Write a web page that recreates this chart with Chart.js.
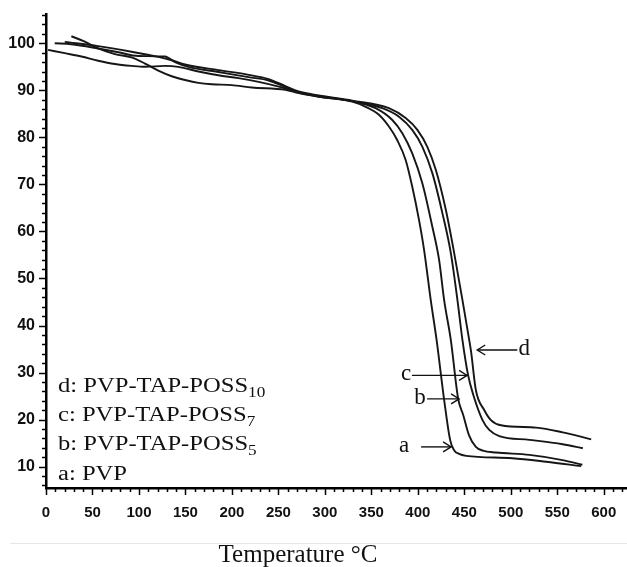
<!DOCTYPE html>
<html>
<head>
<meta charset="utf-8">
<script src="https://cdn.jsdelivr.net/npm/chart.js@4/dist/chart.umd.min.js"></script>
<style>
  html, body { margin: 0; padding: 0; background: #ffffff; }
  canvas { display: block; }
</style>
</head>
<body>
<canvas id="c" width="627" height="567"></canvas>
<script>
// ---------- data ----------
const xTickValues = [0, 50, 100, 150, 200, 250, 300, 350, 400, 450, 500, 550, 600];
const yTickValues = [10, 20, 30, 40, 50, 60, 70, 80, 90, 100];

// a: PVP
const tempA   = [27.3, 41.7, 56.1, 74.1, 92, 106.5, 120.8, 135.2, 149.6, 164, 178.3, 199.9, 221.5, 257.5, 271.8, 293.4,
                 329.4, 343.8, 358.1, 368.9, 377.9, 386.9, 394, 401.3, 406.7, 413.9, 420.2, 428.3, 434.7, 439, 444.4, 452, 501.6, 538, 575.7];
const weightA = [101.5, 100.35, 98.9, 97.7, 97.0, 95.7, 94.2, 93.0, 92.2, 91.6, 91.3, 91.1, 90.6, 90.1, 89.4, 88.65,
                 87.6, 86.5, 84.8, 82.3, 79.4, 75.2, 69.5, 62.4, 56.1, 45.4, 36.9, 24.2, 15.7, 13.5, 12.7, 12.3, 11.8, 11.05, 10.1];
// b: PVP-TAP-POSS5
const tempB   = [2.2, 20.2, 38.1, 56.1, 74.1, 92, 106.5, 128, 142.4, 164, 185.5, 207, 228.7, 250.3, 271.8, 293.4,
                 329.4, 354.5, 372.5, 383.3, 394, 404.9, 415.6, 422.9, 428.3, 435.5, 443.4, 448.8, 455, 462.4, 470, 484, 520, 555.6, 577];
const weightB = [98.6, 97.9, 97.2, 96.3, 95.6, 95.2, 95.0, 95.2, 95.0, 94.0, 93.2, 92.6, 91.8, 90.8, 89.6, 88.7,
                 87.7, 86.2, 83.7, 80.9, 76.6, 70.2, 61.0, 53.9, 45.4, 36.9, 24.4, 21.0, 16.7, 14.2, 13.4, 13.0, 12.5, 11.4, 10.4];
// c: PVP-TAP-POSS7
const tempC   = [9.4, 27.3, 56, 77.7, 99.2, 128, 138.8, 153.2, 185.5, 217.9, 239.5, 257.5, 271.8, 293.4,
                 329.4, 361.7, 379.7, 394, 404.9, 415.6, 426.4, 435.5, 442.6, 448, 454, 459.6, 469.6, 476.8, 487.6, 520, 555.9, 577.5];
const weightC = [100.0, 99.8, 98.9, 98.1, 97.3, 97.2, 96.0, 95.0, 93.9, 92.8, 92.1, 90.7, 89.6, 88.8,
                 87.7, 86.2, 84.4, 81.6, 78.0, 72.4, 63.9, 55.4, 45.4, 36.9, 29.5, 25.3, 19.9, 17.8, 16.5, 15.7, 14.75, 13.9];
// d: PVP-TAP-POSS10
const tempD   = [20.2, 56.1, 92, 120.8, 135.2, 149.6, 185.5, 217.9, 239.5, 257.5, 271.8, 293.4,
                 329.4, 368.9, 386.9, 399.5, 410.2, 419.3, 430.1, 439.1, 448, 455.3, 457.3, 462.4, 471.4, 478.6, 489.4, 527.2, 555.9, 586.5];
const weightD = [100.3, 99.4, 98.2, 97.1, 96.4, 95.5, 94.3, 93.3, 92.4, 90.9, 89.75, 88.9,
                 87.8, 86.2, 84.1, 81.6, 78.0, 73.1, 64.6, 55.4, 45.4, 36.9, 34.4, 26.3, 22.05, 19.9, 18.8, 18.3, 17.3, 15.8];

// legend lines and curve markers (text)
const legendMain = ['d: PVP-TAP-POSS', 'c: PVP-TAP-POSS', 'b: PVP-TAP-POSS', 'a: PVP'];
const legendSub  = ['10', '7', '5', ''];
const markerLetters = ['d', 'c', 'b', 'a'];
// arrow tip / tail (temperature) and level (weight %) for each letter
const markerTipT  = [463.9, 453.0, 444.4, 435.8];
const markerTailT = [507.0, 393.7, 410.0, 403.5];
const markerLabelT = [514.6, 387.3, 402.4, 385.1];
const markerW     = [34.8, 29.4, 24.4, 14.2];
const xTitle = 'Temperature °C';

function pts(t, w) { return t.map((v, i) => ({ x: v, y: w[i] })); }

const serif = '"Liberation Serif", "Times New Roman", serif';

const decorPlugin = {
  id: 'decor',
  afterDraw(chart) {
    const ctx = chart.ctx;
    const xs = chart.scales.x, ys = chart.scales.y;
    const ca = chart.chartArea;
    ctx.save();
    ctx.strokeStyle = '#000';
    // x ticks
    ctx.lineWidth = 1.5;
    for (let v = 0; v <= 620; v += 10) {
      const px = Math.round(xs.getPixelForValue(v)) + 0.5;
      const len = (v % 50 === 0) ? 7 : 4;
      ctx.beginPath(); ctx.moveTo(px, ca.bottom); ctx.lineTo(px, ca.bottom + len); ctx.stroke();
    }
    // y ticks
    for (let v = 6; v <= 106; v += 2) {
      const py = Math.round(ys.getPixelForValue(v)) + 0.5;
      const len = (v % 10 === 0) ? 7 : 4;
      ctx.beginPath(); ctx.moveTo(ca.left, py); ctx.lineTo(ca.left - len, py); ctx.stroke();
    }
    // faint separator line
    ctx.strokeStyle = '#e6e6e6';
    ctx.lineWidth = 1;
    ctx.beginPath(); ctx.moveTo(10, 543.5); ctx.lineTo(627, 543.5); ctx.stroke();

    // x-axis title
    ctx.fillStyle = '#111';
    ctx.font = '25px ' + serif;
    ctx.textAlign = 'center';
    ctx.textBaseline = 'alphabetic';
    ctx.fillText(xTitle, 298, 562);

    // legend text block
    const baselines = [392, 421, 450, 480];
    legendMain.forEach((txt, i) => {
      ctx.save();
      ctx.translate(58, baselines[i]);
      ctx.scale(1.23, 1);
      ctx.textAlign = 'left';
      ctx.font = '20px ' + serif;
      ctx.fillText(txt, 0, 0);
      const w = ctx.measureText(txt).width;
      if (legendSub[i]) {
        ctx.font = '14px ' + serif;
        ctx.fillText(legendSub[i], w, 4.5);
      }
      ctx.restore();
    });

    // curve markers with arrows
    ctx.strokeStyle = '#111';
    ctx.lineWidth = 1.4;
    markerLetters.forEach((L, i) => {
      const y = ys.getPixelForValue(markerW[i]);
      const tipX = xs.getPixelForValue(markerTipT[i]);
      const tailX = xs.getPixelForValue(markerTailT[i]);
      const lx = xs.getPixelForValue(markerLabelT[i]);
      ctx.beginPath(); ctx.moveTo(tailX, y); ctx.lineTo(tipX, y); ctx.stroke();
      const dir = tipX > tailX ? -1 : 1;
      ctx.beginPath();
      ctx.moveTo(tipX + dir * 8, y - 5); ctx.lineTo(tipX, y); ctx.lineTo(tipX + dir * 8, y + 5);
      ctx.stroke();
      ctx.font = '23px ' + serif;
      ctx.textAlign = 'center';
      ctx.textBaseline = 'middle';
      ctx.fillText(L, lx, y - 1);
    });
    ctx.restore();
  }
};

const lineStyle = { borderColor: '#161616', borderWidth: 1.9, pointRadius: 0, fill: false, cubicInterpolationMode: 'monotone' };

new Chart(document.getElementById('c'), {
  type: 'line',
  data: {
    datasets: [
      Object.assign({ label: 'a', data: pts(tempA, weightA) }, lineStyle),
      Object.assign({ label: 'b', data: pts(tempB, weightB) }, lineStyle),
      Object.assign({ label: 'c', data: pts(tempC, weightC) }, lineStyle),
      Object.assign({ label: 'd', data: pts(tempD, weightD) }, lineStyle)
    ]
  },
  options: {
    responsive: false,
    animation: false,
    devicePixelRatio: 1,
    layout: { padding: { top: 14, right: 0, left: 0, bottom: 0 } },
    plugins: { legend: { display: false }, tooltip: { enabled: false }, title: { display: false } },
    scales: {
      x: {
        type: 'linear',
        min: 0, max: 625,
        afterBuildTicks: (s) => { s.ticks = xTickValues.map(v => ({ value: v })); },
        afterFit: (s) => { s.height = 567 - 14 - 474; },
        grid: { display: false },
        border: { display: true, color: '#000', width: 2.5 },
        ticks: { color: '#111', font: { family: '"Liberation Sans", Arial, sans-serif', size: 15, weight: 'bold' }, padding: 8, maxRotation: 0, autoSkip: false }
      },
      y: {
        type: 'linear',
        min: 5.46, max: 106.23,
        afterBuildTicks: (s) => { s.ticks = yTickValues.map(v => ({ value: v })); },
        afterFit: (s) => { s.width = 46; },
        grid: { display: false },
        border: { display: true, color: '#000', width: 2.5 },
        ticks: { color: '#111', font: { family: '"Liberation Sans", Arial, sans-serif', size: 16, weight: 'bold' }, padding: 3 }
      }
    }
  },
  plugins: [decorPlugin]
});
</script>
</body>
</html>
